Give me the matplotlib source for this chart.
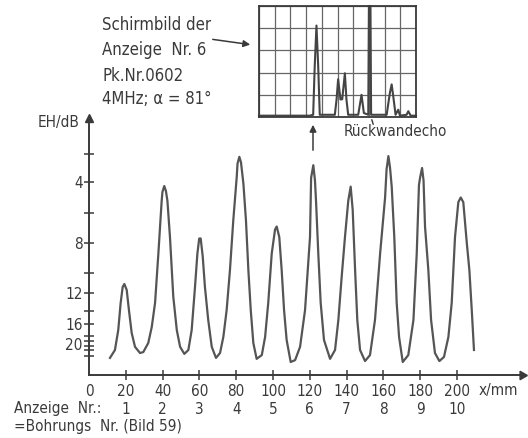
import numpy as np
import matplotlib.pyplot as plt
from matplotlib.patches import FancyArrowPatch
from matplotlib.transforms import blended_transform_factory

# echo height curve: position x/mm, EH/dB
x_mm = [11.4, 14.1, 15.9, 17.2, 18.3, 19.2, 20.5, 21.7, 23.2, 25.0,
        27.7, 29.5, 32.2, 34.1, 35.9, 37.7, 39.5, 39.9, 40.9, 41.8, 42.6, 44.0,
        45.8, 47.7, 49.5, 51.8, 54.0, 55.8, 57.6, 58.9, 59.9, 60.7, 61.8,
        63.0, 64.8, 66.7, 69.0, 71.2, 73.0, 74.8, 76.6, 78.4, 80.3, 80.7,
        81.7, 82.6, 83.9, 85.3, 86.6, 87.9, 89.3, 91.1, 93.9, 95.7, 97.4,
        99.3, 101.1, 102.0, 103.4, 104.7, 106.0, 107.4, 109.6, 112.0, 114.7,
        117.4, 120.1, 120.7, 121.9, 122.8, 123.4, 124.6, 125.9, 127.7, 131.0,
        133.7, 135.5, 137.3, 139.1, 140.9, 142.2, 143.3, 144.6, 145.8, 147.3,
        150.0, 152.7, 155.4, 158.2, 160.9, 161.7, 162.7, 163.6, 164.5, 165.9,
        167.2, 168.5, 170.5, 173.5, 176.3, 178.1, 179.3, 179.9, 181.0, 181.8,
        182.6, 184.4, 185.9, 188.0, 190.4, 192.9, 195.3, 197.1, 198.9, 200.7,
        202.0, 203.4, 205.3, 206.7, 208.0, 209.2]
eh_db = [24.6, 22.0, 17.0, 13.1, 11.4, 11.1, 11.7, 13.9, 17.5, 21.2,
         23.0, 22.7, 19.8, 16.5, 13.1, 8.7, 5.2, 4.65, 4.26, 4.58, 5.2, 7.6,
         12.4, 17.0, 21.2, 23.3, 22.0, 17.0, 11.4, 8.7, 7.7, 7.7, 8.9,
         11.4, 15.4, 21.2, 24.6, 23.0, 18.2, 13.9, 9.8, 6.5, 3.6, 2.7,
         2.2, 2.6, 4.1, 6.5, 9.8, 13.9, 19.8, 24.9, 23.7, 18.2, 13.1,
         8.7, 7.1, 6.9, 7.6, 9.8, 13.9, 18.8, 25.9, 25.3, 21.2,
         13.9, 7.6, 3.7, 2.8, 3.9, 5.3, 8.7, 13.1, 18.8, 24.9,
         22.0, 15.4, 10.4, 7.6, 5.2, 4.3, 5.8, 9.8, 15.4, 22.0,
         25.6, 23.7, 15.4, 8.7, 5.0, 3.1, 2.15, 3.0, 4.3, 7.6,
         13.1, 18.2, 25.9, 23.7, 15.4, 8.7, 4.2, 3.7, 3.0, 3.9,
         6.9, 9.8, 15.4, 23.0, 25.6, 24.3, 18.2, 13.1, 7.6, 5.3,
         5.0, 5.3, 8.0, 9.8, 13.9, 22.0]

x_ticks = [0, 20, 40, 60, 80, 100, 120, 140, 160, 180, 200]
y_ticks = [4, 8, 12, 16, 20]
y_minor = [2, 6, 10, 14, 18, 19, 21, 22, 24]
anzeige_nr = ['1', '2', '3', '4', '5', '6', '7', '8', '9', '10']

# oscilloscope screen of indication no. 6 (divisions)
screen_x = [0, 3.23, 3.45, 3.55, 3.66, 3.77, 3.87, 4.83, 4.94, 5.04, 5.19,
            5.3, 5.47, 5.57, 5.68, 6.32, 6.53, 6.68, 6.96, 7.0, 7.1, 7.14,
            8.13, 8.34, 8.45, 8.55, 8.7, 8.87, 8.98, 9.4, 9.51, 9.66, 10]
screen_y = [0.06, 0.06, 0.1, 2.3, 4.12, 2.3, 0.1, 0.1, 0.79, 1.7, 0.79,
            0.8, 1.97, 0.79, 0.1, 0.1, 1.0, 0.18, 0.1, 5.0, 5.0, 0.1,
            0.1, 1.1, 1.47, 0.94, 0.1, 0.33, 0.06, 0.1, 0.26, 0.06, 0.06]

# hand drawn dB axis: tick value -> depth on the sheet
scale_db = [-0.6, 0, 2, 4, 6, 8, 10, 12, 14, 16, 18, 19, 20, 21, 22, 24, 30]
scale_pos = [118, 126, 154, 182, 213, 243, 273, 293, 311, 324, 336, 341,
             343.5, 346, 350, 356, 375]

W, H = 528, 438
ink = '#3a3a3a'
plt.rcParams['font.family'] = ['DejaVu Sans']
plt.rcParams['font.stretch'] = 'condensed'
plt.rcParams['font.size'] = 11
plt.rcParams['text.color'] = ink


def fx(px):
    return px / W


def fy(py):
    return 1 - py / H


fig = plt.figure(figsize=(W / 100, H / 100), dpi=100)

ax = fig.add_axes([fx(89), fy(375), (522 - 89) / W, (375 - 118) / H])
ax.set_yscale('function', functions=(
    lambda v: np.interp(v, scale_db, scale_pos),
    lambda p: np.interp(p, scale_pos, scale_db)))
ax.plot(x_mm, eh_db, color='#555555', lw=1.6, solid_joinstyle='round')
ax.set_xlim(0, 235.3)
ax.set_ylim(30, -0.6)

for side in ['top', 'right']:
    ax.spines[side].set_visible(False)
for side in ['left', 'bottom']:
    ax.spines[side].set_color(ink)
    ax.spines[side].set_linewidth(1.4)
ax.plot(1, 0, marker=(3, 0, -90), ms=7, color=ink, transform=ax.transAxes,
        clip_on=False)
ax.plot(0, 1, marker='^', ms=6, color=ink, transform=ax.transAxes,
        clip_on=False)

ax.set_xticks(x_ticks)
ax.set_yticks(y_ticks)
ax.set_yticks(y_minor, minor=True)
ax.tick_params(direction='inout', length=7, width=1.1, colors=ink,
               labelcolor=ink, labelsize=11)
ax.tick_params(axis='y', which='minor', direction='inout', length=7,
               width=1.1, colors=ink)
ax.tick_params(axis='y', pad=1)
ax.tick_params(axis='x', pad=3)
ax.xaxis.get_major_ticks()[0].tick1line.set_visible(False)
ax.yaxis.get_major_ticks()[-1].tick1line.set_visible(False)

# screen image
ins = fig.add_axes([fx(259), fy(117), (416 - 259) / W, (117 - 6) / H])
ins.set_xlim(0, 10)
ins.set_ylim(0, 5)
ins.set_xticks(range(11))
ins.set_yticks(range(6))
ins.tick_params(length=0, labelbottom=False, labelleft=False)
ins.grid(True, color='#666666', lw=0.9)
for s in ins.spines.values():
    s.set_color(ink)
    s.set_linewidth(1.3)
ins.plot(screen_x, screen_y, color='#444444', lw=1.5, clip_on=False)

# texts
fig.text(fx(102), fy(25), 'Schirmbild der', va='center', fontsize=12)
fig.text(fx(102), fy(50), 'Anzeige  Nr. 6', va='center', fontsize=12)
fig.text(fx(102), fy(76), 'Pk.Nr.0602', va='center', fontsize=12)
fig.text(fx(102), fy(99), '4MHz; α = 81°', va='center', fontsize=12)
fig.text(fx(38), fy(123), 'EH/dB', va='center', fontsize=11)
fig.text(fx(344), fy(132), 'Rückwandecho', va='center', fontsize=11)
fig.text(fx(479), fy(391), 'x/mm', va='center', fontsize=11)
fig.text(fx(14), fy(409), 'Anzeige  Nr.:', va='center', fontsize=11)
fig.text(fx(14), fy(427), '=Bohrungs  Nr. (Bild 59)', va='center',
         fontsize=11)

row = blended_transform_factory(ax.transData, fig.transFigure)
for xv, nr in zip(x_ticks[1:], anzeige_nr):
    ax.text(xv, fy(409), nr, transform=row, ha='center', va='center',
            fontsize=11, color=ink)

# arrows
fig.add_artist(FancyArrowPatch((fx(210), fy(39)), (fx(253), fy(45)),
                               transform=fig.transFigure, arrowstyle='-|>',
                               mutation_scale=10, color=ink, lw=1.1))
fig.add_artist(FancyArrowPatch((fx(313), fy(153)), (fx(313), fy(122)),
                               transform=fig.transFigure, arrowstyle='-|>',
                               mutation_scale=10, color=ink, lw=1.1))
fig.add_artist(FancyArrowPatch((fx(374), fy(127)), (fx(371), fy(117)),
                               transform=fig.transFigure, arrowstyle='-',
                               color=ink, lw=1.0))

fig.savefig('out.png', dpi=100, facecolor='white')
